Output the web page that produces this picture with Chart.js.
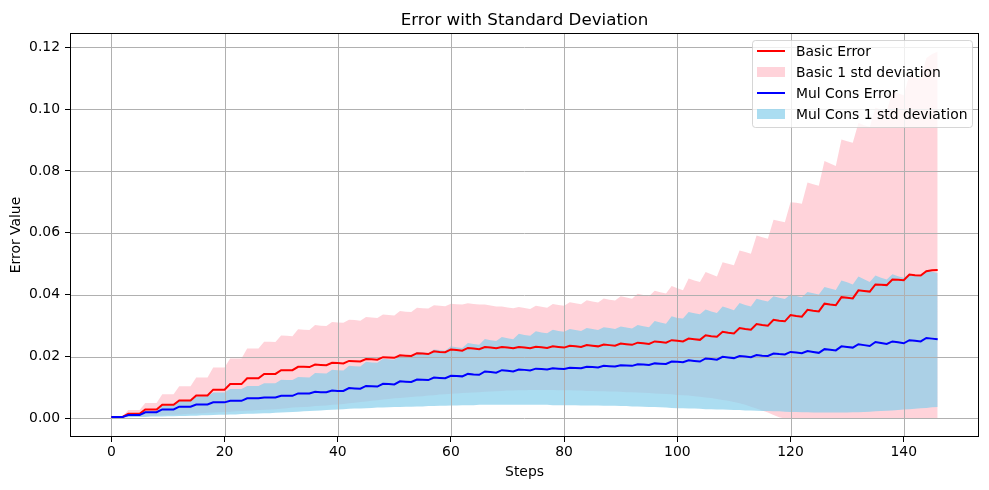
<!DOCTYPE html>
<html>
<head>
<meta charset="utf-8">
<title>Error with Standard Deviation</title>
<script src="https://cdn.jsdelivr.net/npm/chart.js@4.4.1/dist/chart.umd.min.js"></script>
<style>
  html, body { margin: 0; padding: 0; background: #fff; }
  #wrap { width: 989px; height: 490px; }
</style>
</head>
<body>
<div id="wrap"><canvas id="chart" width="989" height="490"></canvas></div>
<script>
// Step index on the x axis (0..146)
const steps = Array.from({ length: 147 }, (_, i) => i);

// Mean error per step
const basicError = [
  0.0005,0.0005,0.0005, 0.0015,0.0015,0.0015, 0.0029,0.0029,0.0029, 0.0044,0.0044,0.0044, 0.0058,0.0058,0.0058, 0.0074,0.0074,0.0074,
  0.0093,0.0093,0.0093, 0.0111,0.0111,0.0111, 0.0130,0.0130,0.0130, 0.0144,0.0144,0.0144, 0.0156,0.0156,0.0156, 0.0167,0.0167,0.0166,
  0.0174,0.0173,0.0172, 0.0180,0.0179,0.0178, 0.0186,0.0185,0.0184, 0.0192,0.0191,0.0190, 0.0198,0.0197,0.0196, 0.0204,0.0203,0.0202,
  0.0211,0.0210,0.0208, 0.0217,0.0215,0.0214, 0.0223,0.0221,0.0219, 0.0228,0.0226,0.0224, 0.0231,0.0229,0.0227, 0.0231,0.0229,0.0227,
  0.0231,0.0229,0.0227, 0.0232,0.0230,0.0228, 0.0233,0.0231,0.0229, 0.0235,0.0233,0.0231, 0.0237,0.0235,0.0233, 0.0239,0.0237,0.0235,
  0.0242,0.0240,0.0238, 0.0245,0.0243,0.0241, 0.0249,0.0247,0.0245, 0.0253,0.0251,0.0249, 0.0258,0.0256,0.0254, 0.0269,0.0266,0.0264,
  0.0280,0.0277,0.0275, 0.0292,0.0289,0.0287, 0.0305,0.0302,0.0300, 0.0319,0.0316,0.0314, 0.0334,0.0331,0.0329, 0.0351,0.0348,0.0346,
  0.0371,0.0368,0.0366, 0.0392,0.0390,0.0388, 0.0414,0.0412,0.0410, 0.0433,0.0432,0.0431, 0.0449,0.0448,0.0447, 0.0465,0.0463,0.0462,
  0.0476,0.0479,0.0480,
];

// Pink band edges (1 std)
const basicUpper = [
  0.0007,0.0007,0.0007, 0.0027,0.0027,0.0027, 0.0050,0.0050,0.0050, 0.0078,0.0078,0.0078, 0.0104,0.0104,0.0104, 0.0132,0.0132,0.0132,
  0.0165,0.0165,0.0165, 0.0194,0.0194,0.0194, 0.0226,0.0226,0.0226, 0.0248,0.0248,0.0247, 0.0268,0.0267,0.0266, 0.0288,0.0287,0.0286,
  0.0302,0.0300,0.0299, 0.0312,0.0310,0.0309, 0.0319,0.0318,0.0316, 0.0328,0.0326,0.0325, 0.0336,0.0334,0.0333, 0.0347,0.0345,0.0344,
  0.0358,0.0356,0.0355, 0.0366,0.0364,0.0363, 0.0371,0.0369,0.0368, 0.0372,0.0370,0.0368, 0.0368,0.0365,0.0362, 0.0362,0.0359,0.0356,
  0.0360,0.0357,0.0354, 0.0364,0.0361,0.0358, 0.0370,0.0367,0.0364, 0.0376,0.0372,0.0369, 0.0382,0.0378,0.0375, 0.0388,0.0384,0.0381,
  0.0395,0.0391,0.0387, 0.0403,0.0399,0.0395, 0.0413,0.0408,0.0404, 0.0428,0.0421,0.0414, 0.0452,0.0446,0.0441, 0.0473,0.0466,0.0459,
  0.0505,0.0500,0.0495, 0.0543,0.0538,0.0532, 0.0591,0.0586,0.0581, 0.0642,0.0638,0.0634, 0.0699,0.0697,0.0694, 0.0763,0.0757,0.0752,
  0.0832,0.0824,0.0816, 0.0902,0.0896,0.0891, 0.0955,0.0948,0.0942, 0.1005,0.0998,0.0992, 0.1058,0.1051,0.1045, 0.1110,0.1103,0.1097,
  0.1165,0.1178,0.1185,
];
const basicLower = [
  0.0003,0.0003,0.0003,0.0005,0.0005,0.0006,0.0007,0.0008,0.0009,0.0010,
  0.0011,0.0012,0.0013,0.0014,0.0015,0.0016,0.0017,0.0018,0.0019,0.0020,
  0.0021,0.0022,0.0023,0.0024,0.0025,0.0026,0.0027,0.0028,0.0029,0.0030,
  0.0031,0.0033,0.0035,0.0036,0.0037,0.0038,0.0040,0.0041,0.0042,0.0044,
  0.0045,0.0047,0.0049,0.0051,0.0053,0.0055,0.0057,0.0059,0.0061,0.0063,
  0.0065,0.0066,0.0068,0.0069,0.0071,0.0072,0.0074,0.0075,0.0077,0.0078,
  0.0080,0.0081,0.0082,0.0083,0.0084,0.0085,0.0086,0.0087,0.0088,0.0089,
  0.0090,0.0090,0.0091,0.0091,0.0092,0.0092,0.0092,0.0092,0.0092,0.0091,
  0.0091,0.0091,0.0090,0.0090,0.0089,0.0089,0.0088,0.0088,0.0087,0.0087,
  0.0086,0.0085,0.0085,0.0084,0.0083,0.0082,0.0081,0.0080,0.0079,0.0078,
  0.0076,0.0075,0.0074,0.0072,0.0070,0.0068,0.0066,0.0063,0.0060,0.0057,
  0.0053,0.0049,0.0044,0.0038,0.0032,0.0026,0.0019,0.0011,0.0004,0.0000,
  0.0000,0.0000,0.0000,0.0000,0.0000,0.0000,0.0000,0.0000,0.0000,0.0000,
  0.0000,0.0000,0.0000,0.0000,0.0000,0.0000,0.0000,0.0000,0.0000,0.0000,
  0.0000,0.0000,0.0000,0.0000,0.0000,0.0000,0.0000,
];

const mulConsError = [
  0.0005,0.0005,0.0005, 0.0011,0.0011,0.0011, 0.0020,0.0020,0.0020, 0.0029,0.0029,0.0029, 0.0038,0.0038,0.0038, 0.0045,0.0045,0.0045,
  0.0052,0.0052,0.0052, 0.0057,0.0057,0.0057, 0.0065,0.0065,0.0065, 0.0068,0.0068,0.0068, 0.0073,0.0073,0.0073, 0.0081,0.0081,0.0081,
  0.0086,0.0085,0.0085, 0.0090,0.0089,0.0089, 0.0098,0.0097,0.0096, 0.0105,0.0104,0.0103, 0.0112,0.0111,0.0110, 0.0120,0.0119,0.0118,
  0.0126,0.0125,0.0124, 0.0132,0.0131,0.0130, 0.0138,0.0137,0.0136, 0.0144,0.0142,0.0141, 0.0152,0.0150,0.0148, 0.0156,0.0154,0.0152,
  0.0158,0.0157,0.0155, 0.0161,0.0160,0.0158, 0.0162,0.0161,0.0160, 0.0164,0.0163,0.0162, 0.0167,0.0166,0.0165, 0.0170,0.0169,0.0168,
  0.0172,0.0171,0.0170, 0.0175,0.0174,0.0173, 0.0178,0.0177,0.0176, 0.0184,0.0183,0.0182, 0.0188,0.0186,0.0184, 0.0194,0.0192,0.0190,
  0.0199,0.0197,0.0195, 0.0202,0.0200,0.0198, 0.0205,0.0203,0.0202, 0.0210,0.0208,0.0207, 0.0215,0.0213,0.0211, 0.0218,0.0215,0.0212,
  0.0224,0.0222,0.0220, 0.0233,0.0231,0.0229, 0.0240,0.0237,0.0234, 0.0247,0.0244,0.0241, 0.0249,0.0246,0.0243, 0.0253,0.0251,0.0249,
  0.0260,0.0258,0.0256,
];

// Blue band edges (1 std)
const mulConsUpper = [
  0.0006,0.0006,0.0006, 0.0013,0.0013,0.0013, 0.0025,0.0025,0.0025, 0.0043,0.0043,0.0043, 0.0060,0.0060,0.0060, 0.0072,0.0072,0.0072,
  0.0084,0.0084,0.0084, 0.0095,0.0095,0.0095, 0.0105,0.0105,0.0105, 0.0114,0.0114,0.0114, 0.0125,0.0124,0.0124, 0.0134,0.0133,0.0132,
  0.0147,0.0146,0.0145, 0.0157,0.0156,0.0155, 0.0170,0.0169,0.0168, 0.0183,0.0181,0.0180, 0.0193,0.0191,0.0190, 0.0204,0.0202,0.0201,
  0.0215,0.0213,0.0211, 0.0223,0.0221,0.0219, 0.0233,0.0230,0.0228, 0.0244,0.0241,0.0238, 0.0257,0.0253,0.0250, 0.0263,0.0259,0.0256,
  0.0274,0.0270,0.0267, 0.0282,0.0278,0.0275, 0.0287,0.0283,0.0280, 0.0289,0.0286,0.0283, 0.0292,0.0289,0.0286, 0.0295,0.0292,0.0289,
  0.0297,0.0294,0.0291, 0.0302,0.0298,0.0295, 0.0315,0.0310,0.0306, 0.0330,0.0325,0.0323, 0.0344,0.0340,0.0337, 0.0352,0.0346,0.0341,
  0.0362,0.0356,0.0350, 0.0373,0.0367,0.0362, 0.0387,0.0382,0.0378, 0.0395,0.0390,0.0386, 0.0401,0.0396,0.0392, 0.0409,0.0405,0.0401,
  0.0425,0.0420,0.0415, 0.0446,0.0440,0.0433, 0.0459,0.0450,0.0441, 0.0462,0.0455,0.0449, 0.0466,0.0460,0.0455, 0.0468,0.0462,0.0458,
  0.0479,0.0474,0.0470,
];
const mulConsLower = [
  0.0004,0.0004,0.0004,0.0004,0.0005,0.0005,0.0005,0.0006,0.0006,0.0006,
  0.0007,0.0007,0.0008,0.0008,0.0009,0.0009,0.0010,0.0010,0.0011,0.0012,
  0.0012,0.0013,0.0013,0.0014,0.0015,0.0015,0.0016,0.0017,0.0017,0.0018,
  0.0019,0.0020,0.0021,0.0022,0.0023,0.0024,0.0025,0.0026,0.0027,0.0028,
  0.0029,0.0030,0.0031,0.0032,0.0032,0.0033,0.0034,0.0035,0.0035,0.0036,
  0.0037,0.0037,0.0038,0.0038,0.0039,0.0039,0.0040,0.0040,0.0041,0.0041,
  0.0042,0.0042,0.0043,0.0043,0.0043,0.0044,0.0044,0.0044,0.0044,0.0044,
  0.0044,0.0044,0.0044,0.0044,0.0044,0.0044,0.0044,0.0044,0.0043,0.0043,
  0.0043,0.0043,0.0043,0.0042,0.0042,0.0042,0.0042,0.0041,0.0041,0.0041,
  0.0040,0.0040,0.0039,0.0039,0.0038,0.0037,0.0037,0.0036,0.0035,0.0034,
  0.0033,0.0033,0.0032,0.0032,0.0031,0.0030,0.0030,0.0029,0.0029,0.0028,
  0.0027,0.0027,0.0026,0.0026,0.0025,0.0024,0.0024,0.0023,0.0023,0.0022,
  0.0021,0.0021,0.0020,0.0020,0.0019,0.0019,0.0019,0.0019,0.0019,0.0019,
  0.0019,0.0020,0.0020,0.0021,0.0022,0.0023,0.0024,0.0025,0.0026,0.0027,
  0.0029,0.0030,0.0031,0.0033,0.0034,0.0036,0.0037,
];

const xTicks = [0, 20, 40, 60, 80, 100, 120, 140];
const yTicks = [0, 0.02, 0.04, 0.06, 0.08, 0.10, 0.12];

const FONT = "'DejaVu Sans', sans-serif";
const PINK = 'rgba(255,192,203,0.7)';
const SKY  = 'rgba(135,206,235,0.7)';

const LEGEND = [
  { label: 'Basic Error',              kind: 'line',  color: '#ff0000' },
  { label: 'Basic 1 std deviation',    kind: 'patch', color: PINK },
  { label: 'Mul Cons Error',           kind: 'line',  color: '#0000ff' },
  { label: 'Mul Cons 1 std deviation', kind: 'patch', color: SKY },
];

Chart.defaults.font.family = FONT;
Chart.defaults.font.size   = 13.9;
Chart.defaults.color       = '#000';

// matplotlib draws grid lines above the fills but below the lines
const gridOverFills = {
  id: 'gridOverFills',
  beforeDatasetDraw(chart, args) {
    if (args.index !== 4) return;
    const { ctx, chartArea: a, scales: { x, y } } = chart;
    ctx.save();
    ctx.strokeStyle = '#b0b0b0';
    ctx.lineWidth   = 1;
    ctx.beginPath();
    xTicks.forEach(v => {
      const px = Math.round(x.getPixelForValue(v)) + 0.5;
      ctx.moveTo(px, a.top);
      ctx.lineTo(px, a.bottom);
    });
    yTicks.forEach(v => {
      const py = Math.round(y.getPixelForValue(v)) + 0.5;
      ctx.moveTo(a.left, py);
      ctx.lineTo(a.right, py);
    });
    ctx.stroke();
    ctx.restore();
  },
};

// Spines, title and legend box
const frameAndLegend = {
  id: 'frameAndLegend',
  afterDraw(chart) {
    const { ctx, chartArea: { left, right, top, bottom } } = chart;
    ctx.save();

    ctx.strokeStyle = '#000';
    ctx.lineWidth   = 1;
    ctx.strokeRect(Math.round(left) + 0.5, Math.round(top) + 0.5,
                   Math.round(right - left) - 1, Math.round(bottom - top) - 1);

    ctx.fillStyle    = '#000';
    ctx.textAlign    = 'center';
    ctx.textBaseline = 'alphabetic';
    ctx.font         = `16.7px ${FONT}`;
    ctx.fillText('Error with Standard Deviation', (left + right) / 2, top - 8);

    // legend, upper right
    const w = 220, h = 87;
    const bx = right - 7 - w, by = top + 7;
    ctx.beginPath();
    ctx.roundRect(bx + 0.5, by + 0.5, w, h, 3);
    ctx.fillStyle   = 'rgba(255,255,255,0.8)';
    ctx.fill();
    ctx.strokeStyle = 'rgba(204,204,204,0.8)';
    ctx.stroke();

    ctx.font         = `13.9px ${FONT}`;
    ctx.textAlign    = 'left';
    ctx.textBaseline = 'middle';
    LEGEND.forEach((item, i) => {
      const cy = by + 11 + i * 21;
      const hx = bx + 5;
      if (item.kind === 'line') {
        ctx.strokeStyle = item.color;
        ctx.lineWidth   = 2;
        ctx.beginPath();
        ctx.moveTo(hx, cy);
        ctx.lineTo(hx + 28, cy);
        ctx.stroke();
      } else {
        ctx.fillStyle = item.color;
        ctx.fillRect(hx, cy - 5, 28, 10);
      }
      ctx.fillStyle = '#000';
      ctx.fillText(item.label, hx + 39, cy + 1);
    });

    ctx.restore();
  },
};

const bandLine = { borderWidth: 0, pointRadius: 0, backgroundColor: 'transparent' };

new Chart(document.getElementById('chart'), {
  type: 'line',
  data: {
    labels: steps,
    datasets: [
      { ...bandLine, label: 'basic lower', data: basicLower, fill: false, order: 3 },
      { ...bandLine, label: 'Basic 1 std deviation', data: basicUpper, fill: 0, backgroundColor: PINK, order: 3 },
      { ...bandLine, label: 'mul lower', data: mulConsLower, fill: false, order: 2 },
      { ...bandLine, label: 'Mul Cons 1 std deviation', data: mulConsUpper, fill: 2, backgroundColor: SKY, order: 2 },
      { label: 'Basic Error', data: basicError, borderColor: '#ff0000', borderWidth: 2,
        pointRadius: 0, fill: false, tension: 0, order: 1 },
      { label: 'Mul Cons Error', data: mulConsError, borderColor: '#0000ff', borderWidth: 2,
        pointRadius: 0, fill: false, tension: 0, order: 0 },
    ],
  },
  plugins: [gridOverFills, frameAndLegend],
  options: {
    responsive:       false,
    animation:        false,
    devicePixelRatio: 1,
    layout: { padding: { top: 33, right: 10, left: 0, bottom: 0 } },
    plugins: {
      legend:  { display: false },
      title:   { display: false },
      tooltip: { enabled: false },
    },
    scales: {
      x: {
        type: 'linear',
        min: -7.3,
        max: 153.3,
        afterBuildTicks: s => { s.ticks = xTicks.map(v => ({ value: v })); },
        afterFit: s => { s.height = 53; },
        border: { display: false },
        grid: { drawOnChartArea: false, drawTicks: true, tickLength: 5, tickColor: '#000', tickWidth: 1 },
        ticks: { padding: 2, maxRotation: 0, autoSkip: false, callback: v => String(v) },
        title: { display: true, text: 'Steps', padding: { top: 0, bottom: 9.6 } },
      },
      y: {
        min: -0.0060,
        max: 0.1246,
        afterBuildTicks: s => { s.ticks = yTicks.map(v => ({ value: v })); },
        afterFit: s => { s.width = 70; },
        border: { display: false },
        grid: { drawOnChartArea: false, drawTicks: true, tickLength: 5, tickColor: '#000', tickWidth: 1 },
        ticks: { padding: 5, autoSkip: false, callback: v => v.toFixed(2) },
        title: { display: true, text: 'Error Value', padding: { top: 7.6, bottom: 0 } },
      },
    },
  },
});
</script>
</body>
</html>
